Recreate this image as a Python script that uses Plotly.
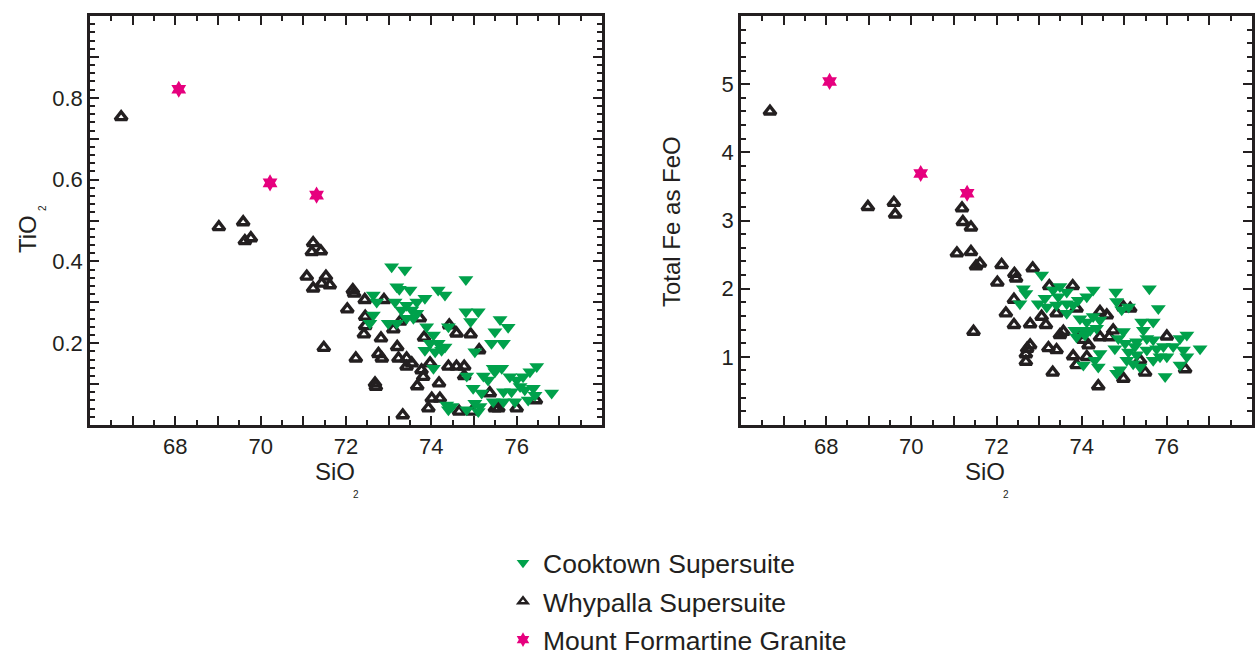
import plotly.graph_objects as go

# ---- SiO2 vs TiO2 (wt%) ----
why_sio2_ti = [66.73, 69.02, 69.59, 69.63, 69.77, 71.23, 71.20, 71.41, 71.08, 71.53,
               71.23, 71.43, 71.62, 72.16, 72.19, 72.44, 72.89, 72.03, 72.45, 72.45,
               72.42, 71.48, 72.23, 72.76, 72.84, 72.82, 73.20, 73.11, 73.27, 73.23,
               73.42, 73.54, 73.42, 73.73, 73.83, 73.77, 73.81, 73.97, 72.68, 72.70,
               73.67, 74.18, 74.01, 74.20, 73.93, 74.42, 74.59, 74.92, 75.12, 74.40,
               74.59, 74.77, 74.77, 74.65, 74.95, 75.37, 75.49, 75.57, 76.00, 76.45,
               73.33]
why_tio2 = [0.753, 0.484, 0.496, 0.450, 0.457, 0.445, 0.423, 0.425, 0.363, 0.363,
            0.334, 0.346, 0.342, 0.330, 0.322, 0.306, 0.306, 0.283, 0.265, 0.242,
            0.222, 0.189, 0.163, 0.174, 0.163, 0.212, 0.191, 0.234, 0.253, 0.163,
            0.163, 0.151, 0.143, 0.261, 0.214, 0.134, 0.118, 0.151, 0.102, 0.094,
            0.095, 0.102, 0.065, 0.065, 0.041, 0.244, 0.224, 0.222, 0.183, 0.143,
            0.143, 0.143, 0.120, 0.033, 0.033, 0.078, 0.041, 0.041, 0.041, 0.061,
            0.024]

cook_sio2_ti = [73.07, 73.38, 74.81, 73.19, 73.25, 73.50, 74.16, 74.32, 72.64, 72.72,
                73.15, 73.42, 73.66, 73.85, 73.30, 73.54, 73.66, 72.64, 72.56, 72.99,
                73.19, 73.42, 73.58, 73.89, 74.40, 74.81, 75.10, 74.92, 75.61, 75.80,
                75.49, 74.05, 73.97, 74.16, 74.32, 73.85, 74.09, 74.24, 75.41, 75.69,
                75.02, 74.05, 75.45, 75.65, 75.49, 76.47, 76.31, 74.83, 75.22, 75.33,
                75.84, 76.00, 76.15, 74.98, 75.18, 75.69, 75.88, 76.08, 76.19, 76.39,
                76.43, 76.82, 75.45, 75.69, 75.96, 76.27, 74.36, 74.48, 74.40, 75.02,
                75.14, 74.83, 75.10]
cook_tio2 = [0.387, 0.379, 0.356, 0.338, 0.332, 0.330, 0.330, 0.318, 0.318, 0.301,
             0.301, 0.293, 0.301, 0.310, 0.281, 0.281, 0.273, 0.269, 0.249, 0.249,
             0.249, 0.261, 0.261, 0.240, 0.240, 0.277, 0.277, 0.253, 0.258, 0.239,
             0.228, 0.220, 0.200, 0.200, 0.191, 0.183, 0.179, 0.183, 0.200, 0.200,
             0.179, 0.139, 0.139, 0.139, 0.130, 0.143, 0.130, 0.120, 0.120, 0.110,
             0.118, 0.110, 0.118, 0.090, 0.078, 0.081, 0.081, 0.094, 0.086, 0.090,
             0.073, 0.078, 0.057, 0.057, 0.057, 0.061, 0.049, 0.045, 0.037, 0.053,
             0.045, 0.037, 0.033]

mf_sio2 = [68.08, 70.22, 71.31]
mf_tio2 = [0.821, 0.592, 0.562]

# ---- SiO2 vs total Fe as FeO (wt%) ----
why_sio2_fe = [66.68, 68.98, 69.59, 69.62, 71.19, 71.21, 71.40, 71.07, 71.40, 71.61,
               71.52, 72.12, 72.02, 72.42, 72.46, 72.85, 72.41, 71.46, 72.22, 72.41,
               72.79, 73.06, 73.16, 73.24, 73.79, 73.41, 73.57, 73.49, 72.79, 72.72,
               72.69, 72.69, 73.22, 73.41, 73.80, 73.88, 73.32, 73.96, 74.04, 74.16,
               74.43, 74.65, 74.59, 74.74, 74.39, 74.98, 75.49, 76.00, 76.43, 73.88,
               74.43, 74.98, 75.14, 75.37, 74.12]
why_feo = [4.60, 3.20, 3.26, 3.09, 3.18, 2.98, 2.90, 2.52, 2.54, 2.37,
           2.33, 2.35, 2.09, 2.22, 2.15, 2.30, 1.84, 1.37, 1.64, 1.47,
           1.48, 1.59, 1.47, 2.04, 2.04, 1.64, 1.37, 1.32, 1.17, 1.12,
           1.04, 0.93, 1.13, 1.10, 1.01, 0.88, 0.77, 1.32, 1.25, 1.17,
           1.29, 1.29, 1.61, 1.39, 0.57, 0.68, 0.77, 1.30, 0.82, 1.71,
           1.66, 1.73, 1.71, 0.95, 1.00]

cook_sio2_fe = [73.06, 72.63, 72.69, 72.55, 72.98, 73.14, 73.33, 73.49, 73.65, 73.45,
                73.18, 73.41, 73.65, 73.80, 73.92, 74.27, 74.12, 74.80, 75.59, 74.82,
                74.94, 75.10, 75.80, 73.65, 73.96, 74.12, 74.27, 74.43, 73.84, 74.04,
                74.20, 74.35, 73.88, 74.08, 75.41, 75.68, 75.45, 75.53, 74.98, 74.86,
                75.02, 74.78, 75.29, 75.25, 75.68, 74.43, 74.31, 74.04, 74.39, 75.10,
                75.29, 75.53, 75.76, 75.92, 76.15, 76.39, 76.47, 76.31, 76.78, 75.06,
                75.21, 75.37, 75.68, 75.84, 76.00, 74.90, 74.82, 75.96, 76.31, 76.47]
cook_feo = [2.20, 2.00, 1.93, 1.78, 1.78, 1.86, 1.98, 2.03, 1.95, 1.88,
            1.73, 1.76, 1.78, 1.76, 1.83, 1.98, 1.88, 1.95, 2.00, 1.81,
            1.69, 1.73, 1.71, 1.64, 1.56, 1.51, 1.59, 1.54, 1.39, 1.39,
            1.39, 1.42, 1.29, 1.32, 1.51, 1.51, 1.39, 1.27, 1.37, 1.27,
            1.20, 1.12, 1.22, 1.15, 1.25, 1.05, 0.95, 0.88, 0.85, 1.07,
            1.03, 1.10, 1.12, 1.15, 1.15, 1.10, 1.32, 1.27, 1.12, 0.95,
            0.90, 0.85, 0.95, 1.00, 1.00, 0.81, 0.76, 0.71, 0.88, 1.00]

mf_feo = [5.04, 3.69, 3.40]

# ---- ticks: long marks at every whole unit / 0.1, labels on alternate ones ----
sio2_ticks = [67, 68, 69, 70, 71, 72, 73, 74, 75, 76, 77]
sio2_labels = ["", "68", "", "70", "", "72", "", "74", "", "76", ""]
tio2_ticks = [0.1, 0.2, 0.3, 0.4, 0.5, 0.6, 0.7, 0.8, 0.9]
tio2_labels = ["", "0.2", "", "0.4", "", "0.6", "", "0.8", ""]
feo_ticks = [1, 2, 3, 4, 5]

# ---- styling ----
INK = "#231f20"
GREEN = "#00a14b"
MAGENTA = "#e6007e"
FONT = "Liberation Sans, Arial, sans-serif"

W, H = 1258, 653

cook_marker = dict(symbol="triangle-down", size=13, color=GREEN, line=dict(width=0))
why_marker = dict(symbol="triangle-up-open", size=10.5, color=INK, line=dict(width=3.4, color=INK))
mf_marker = dict(symbol="hexagram", size=13, color=MAGENTA, line=dict(width=0))

fig = go.Figure()

panels = [
    ("x", "y", why_sio2_ti, why_tio2, cook_sio2_ti, cook_tio2, mf_tio2),
    ("x2", "y2", why_sio2_fe, why_feo, cook_sio2_fe, cook_feo, mf_feo),
]
for xa, ya, wx, wy, cx, cy, my in panels:
    fig.add_trace(go.Scatter(x=wx, y=wy, mode="markers", marker=why_marker,
                             xaxis=xa, yaxis=ya, showlegend=False, hoverinfo="skip"))
    fig.add_trace(go.Scatter(x=cx, y=cy, mode="markers", marker=cook_marker,
                             xaxis=xa, yaxis=ya, showlegend=False, hoverinfo="skip"))
    fig.add_trace(go.Scatter(x=mf_sio2, y=my, mode="markers", marker=mf_marker,
                             xaxis=xa, yaxis=ya, showlegend=False, hoverinfo="skip"))

# legend entries (smaller symbols than the plotted points)
legend_items = [
    ("Cooktown Supersuite", dict(symbol="triangle-down", size=11, color=GREEN)),
    ("Whypalla Supersuite", dict(symbol="triangle-up-open", size=8, color=INK,
                                 line=dict(width=2.5, color=INK))),
    ("Mount Formartine Granite", dict(symbol="hexagram", size=11, color=MAGENTA)),
]
for i, (name, mk) in enumerate(legend_items):
    fig.add_trace(go.Scatter(x=[None], y=[None], mode="markers", name=name, marker=mk,
                             legendgroup=f"g{i}", showlegend=True, hoverinfo="skip"))


def px_x(p):
    return p / W


def px_y(p):
    return 1 - p / H


axis_common = dict(
    showline=True, linewidth=2.5, linecolor=INK, mirror="allticks",
    ticks="inside", ticklen=9, tickwidth=2, tickcolor=INK,
    showgrid=False, zeroline=False,
    tickfont=dict(family=FONT, size=22, color=INK),
)


def minor(t0, step):
    return dict(tickmode="linear", tick0=t0, dtick=step, ticklen=5,
                tickwidth=2, tickcolor=INK, ticks="inside")


xdom1 = [px_x(90), px_x(602)]
xdom2 = [px_x(741), px_x(1252)]
ydom = [px_y(425), px_y(16)]

fig.update_layout(
    width=W, height=H, autosize=False,
    margin=dict(l=0, r=0, t=0, b=0, autoexpand=False),
    paper_bgcolor="white", plot_bgcolor="white",
    font=dict(family=FONT, color=INK),
    xaxis=dict(domain=xdom1, range=[66, 78], anchor="y", tickmode="array",
               tickvals=sio2_ticks, ticktext=sio2_labels, minor=minor(66, 0.5),
               **axis_common),
    yaxis=dict(domain=ydom, range=[0, 1.0], anchor="x", tickmode="array",
               tickvals=tio2_ticks, ticktext=tio2_labels, minor=minor(0, 0.02),
               **axis_common),
    xaxis2=dict(domain=xdom2, range=[66, 78], anchor="y2", tickmode="array",
                tickvals=sio2_ticks, ticktext=sio2_labels, minor=minor(66, 0.5),
                **axis_common),
    yaxis2=dict(domain=ydom, range=[0, 6], anchor="x2", tickmode="array",
                tickvals=feo_ticks, minor=minor(0, 0.2),
                **axis_common),
    legend=dict(x=px_x(503), y=px_y(539), xanchor="left", yanchor="top",
                font=dict(family=FONT, size=26.5, color=INK),
                traceorder="grouped", tracegroupgap=1,
                bgcolor="rgba(0,0,0,0)", itemclick=False, itemdoubleclick=False),
)

# axis titles with a dropped subscript
title_font = dict(family=FONT, size=24, color=INK)
sub_font = dict(family=FONT, size=10, color=INK)
ann = []
for cx in (335, 985):
    ann.append(dict(text="SiO", x=px_x(cx), y=px_y(472), xref="paper", yref="paper",
                    showarrow=False, xanchor="center", yanchor="middle", font=title_font))
    ann.append(dict(text="2", x=px_x(cx + 21), y=px_y(494), xref="paper", yref="paper",
                    showarrow=False, xanchor="center", yanchor="middle", font=sub_font))
ann.append(dict(text="TiO", x=px_x(27), y=px_y(234), xref="paper", yref="paper",
                showarrow=False, textangle=-90, xanchor="center", yanchor="middle",
                font=title_font))
ann.append(dict(text="2", x=px_x(42), y=px_y(208), xref="paper", yref="paper",
                showarrow=False, textangle=-90, xanchor="center", yanchor="middle",
                font=sub_font))
ann.append(dict(text="Total Fe as FeO", x=px_x(672), y=px_y(222), xref="paper", yref="paper",
                showarrow=False, textangle=-90, xanchor="center", yanchor="middle",
                font=title_font))
fig.update_layout(annotations=ann)

fig.write_html("out.html")
